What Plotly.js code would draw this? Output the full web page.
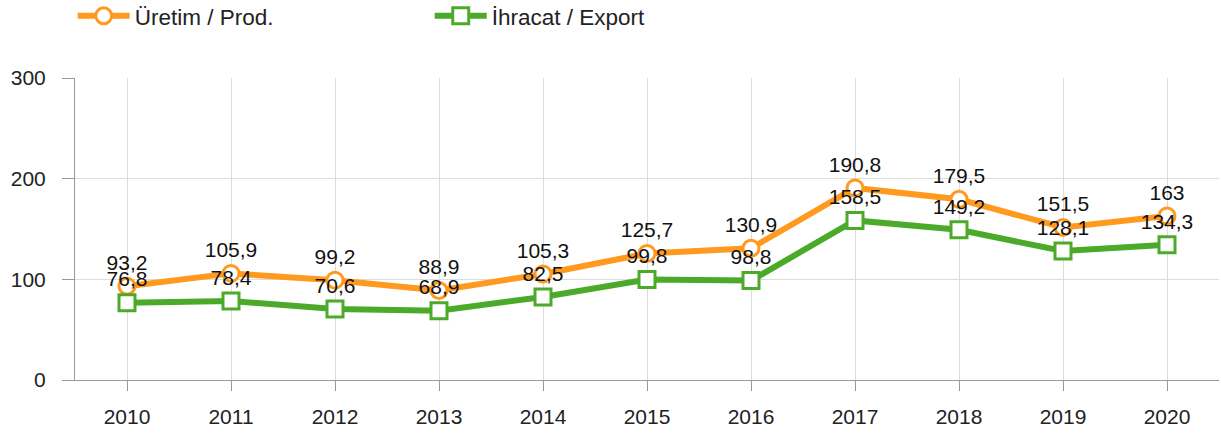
<!DOCTYPE html>
<html><head><meta charset="utf-8">
<script src="https://cdn.plot.ly/plotly-3.0.1.min.js"></script>
<style>body{margin:0;padding:0;background:#fff}#c{width:1221px;height:440px}</style>
</head><body><div id="c"></div>
<script>
const years = ['2010','2011','2012','2013','2014','2015','2016','2017','2018','2019','2020'];
const production = [93.2,105.9,99.2,88.9,105.3,125.7,130.9,190.8,179.5,151.5,163];
const exportVals = [76.8,78.4,70.6,68.9,82.5,99.8,98.8,158.5,149.2,128.1,134.3];
const fmt = v => String(v).replace('.', ',');
const font = 'Liberation Sans, Arial, sans-serif';
const traces = [
  {x: years, y: production, name: 'Üretim / Prod.', type: 'scatter', mode: 'lines+markers+text',
   text: production.map(fmt), textposition: 'top center', textfont: {family: font, size: 21, color: '#111'},
   line: {color: '#ff9a1f', width: 6},
   marker: {symbol: 'circle', size: 16, color: '#ffffff', line: {color: '#ff9a1f', width: 3}},
   cliponaxis: false},
  {x: years, y: exportVals, name: 'İhracat / Export', type: 'scatter', mode: 'lines+markers+text',
   text: exportVals.map(fmt), textposition: 'top center', textfont: {family: font, size: 21, color: '#111'},
   line: {color: '#4caa2a', width: 6},
   marker: {symbol: 'square', size: 16, color: '#ffffff', line: {color: '#4caa2a', width: 3}},
   cliponaxis: false}
];
const layout = {
  width: 1221, height: 440,
  margin: {l: 75, r: 2, t: 78, b: 60, autoexpand: false},
  paper_bgcolor: '#fff', plot_bgcolor: '#fff',
  font: {family: font, size: 21, color: '#222'},
  showlegend: true,
  legend: {orientation: 'h', x: -0.002, xanchor: 'left', y: 1.276, yanchor: 'top', itemwidth: 52,
           entrywidth: 290, entrywidthmode: 'pixels', font: {family: font, size: 22.5, color: '#222'}},
  xaxis: {type: 'category', range: [-0.5, 10.5], showgrid: true, gridcolor: '#dddddd', gridwidth: 1,
          showline: true, linecolor: '#999', linewidth: 1, ticks: 'outside', ticklen: 10, tickcolor: '#999',
          ticklabelstandoff: 8,
          tickfont: {family: font, size: 21, color: '#222'}, zeroline: false, fixedrange: true},
  yaxis: {range: [0, 300], tickvals: [0, 100, 200, 300], showgrid: true, gridcolor: '#dddddd', gridwidth: 1,
          showline: true, linecolor: '#999', linewidth: 1, ticks: 'outside', ticklen: 12, tickcolor: '#999',
          ticklabelstandoff: 12,
          tickfont: {family: font, size: 21, color: '#222'}, zeroline: false, fixedrange: true}
};
Plotly.newPlot('c', traces, layout, {displayModeBar: false, staticPlot: true});
</script></body></html>
